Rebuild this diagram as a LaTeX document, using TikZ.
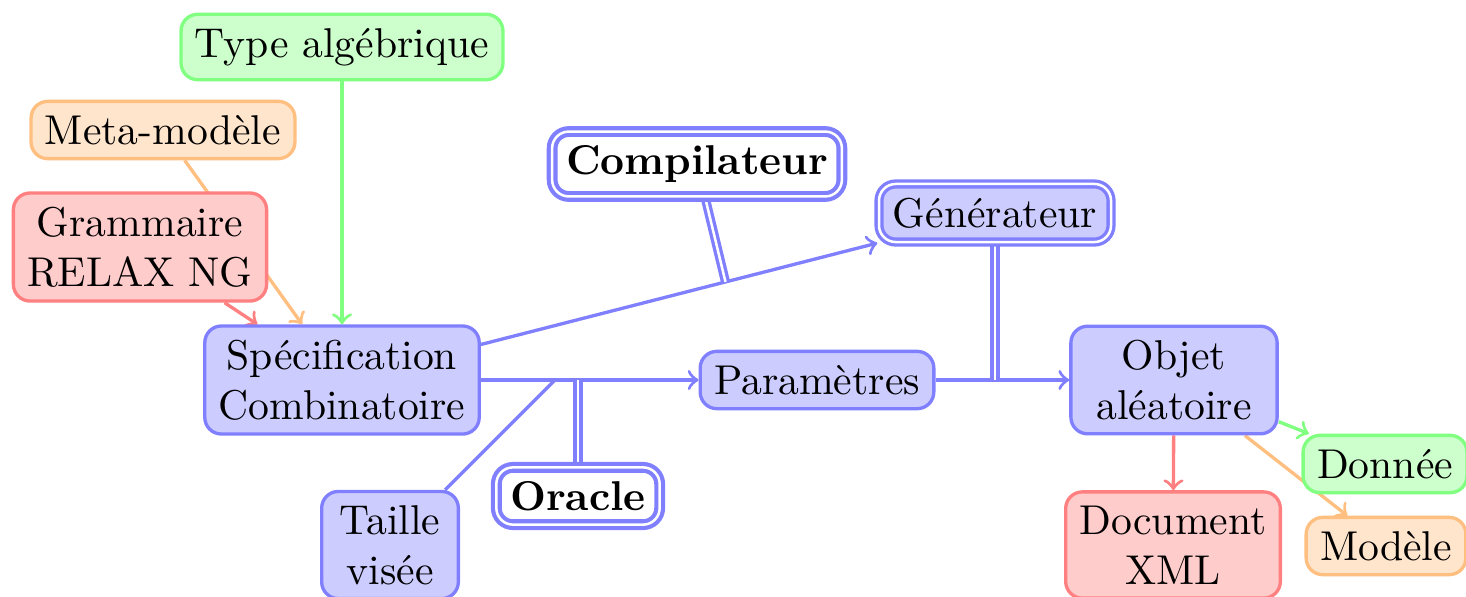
\documentclass[tikz,border=0pt]{standalone}
\usetikzlibrary{backgrounds}
\tikzset{
  box/.style={draw, rounded corners, thick, align=center},
  bluebox/.style={box, draw=blue!50, fill=blue!20},
  greenbox/.style={box, draw=green!50, fill=green!20},
  orangebox/.style={box, draw=orange!50, fill=orange!20},
  redbox/.style={box, draw=red!50, fill=red!20},
  dblbox/.style={box, draw=blue!50, double, line width=1pt, font=\bfseries},
  conn/.style={thick, ->},
  dblconn/.style={thick, double, draw=blue!50},
}
\begin{document}
\begin{tikzpicture}[x=0.24pt, y=-0.24pt]
\useasboundingbox (0,0) rectangle (1466,596);
\node[greenbox] (type) at (342,47) {Type algébrique};
\node[orangebox] (meta) at (163,130) {Meta-modèle};
\node[redbox] (gram) at (140,247) {Grammaire\\RELAX NG};
\node[bluebox] (spec) at (342,380) {Spécification\\Combinatoire};
\node[dblbox, fill=white] (comp) at (697,164) {Compilateur};
\node[bluebox, double] (gen) at (995,213) {Générateur};
\node[bluebox] (param) at (817,380) {Paramètres};
\node[bluebox, minimum width=49.5pt] (objet) at (1174,380) {Objet\\aléatoire};
\node[greenbox] (donnee) at (1385,464) {Donnée};
\node[orangebox] (modele) at (1386,546) {Modèle};
\node[redbox] (doc) at (1173,545) {Document\\XML};
\node[bluebox, minimum width=32.8pt] (taille) at (390,545) {Taille\\visée};
\node[dblbox, fill=white] (oracle) at (578,496) {Oracle};
\coordinate (oc) at (oracle |- spec.east);
\coordinate (gc) at (gen |- param.east);
\begin{scope}[on background layer]
\draw[conn, green!50] (type) -- (spec);
\draw[conn, red!50] (gram) -- (spec);
\draw[conn, orange!50] (meta) -- (spec);
\draw[conn, blue!50] (spec) -- coordinate[pos=0.617] (cm) (gen);
\draw[conn, blue!50] (spec) -- coordinate[pos=0.34] (tv) (param);
\draw[conn, blue!50] (param) -- (objet);
\draw[thick, blue!50] (taille) -- (tv);
\draw[dblconn] (comp) -- (cm);
\draw[dblconn] (oracle) -- (oc);
\draw[dblconn] (gen) -- (gc);
\draw[conn, red!50] (objet) -- (doc);
\draw[conn, green!50] (objet) -- (donnee);
\draw[conn, orange!50] (objet) -- (modele);
\end{scope}
\end{tikzpicture}
\end{document}
